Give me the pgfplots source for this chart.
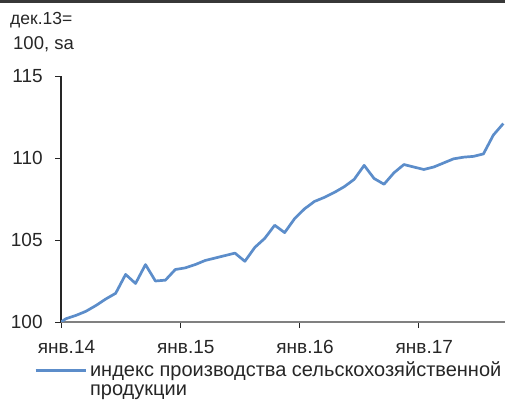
\documentclass[border=0pt]{standalone}
\usepackage{pgfplots}
\pgfplotsset{compat=1.18}
\usepackage{fontspec}
\setmainfont{Liberation Sans}
\definecolor{lineblue}{RGB}{92,141,202}
\definecolor{txt}{RGB}{38,38,38}
\definecolor{xaxisgray}{RGB}{128,128,128}
\begin{document}
\fontsize{18.5bp}{22bp}\selectfont
\begin{tikzpicture}
\path[use as bounding box] (0,0) rectangle (505bp,400bp);
\fill[black!78] (0,397bp) rectangle (505bp,400bp);
\begin{axis}[
  at={(61bp,78bp)}, anchor=south west,
  scale only axis, width=444bp, height=246bp,
  xmin=0, xmax=44.67, ymin=100, ymax=115,
  axis x line=bottom, axis y line=left,
  axis line style={-},
  x axis line style={xaxisgray, line width=2.6bp},
  y axis line style={black!85, line width=1.2bp},
  xtick={0,12,24,36},
  xticklabels={янв.14,янв.15,янв.16,янв.17},
  ytick={100,105,110,115},
  tick align=outside,
  major tick length=6bp,
  tick style={black!85, line width=0.9bp},
  tick label style={text=txt, font=\fontsize{19bp}{22bp}\selectfont},
  xticklabel style={xshift=5.5bp, yshift=-6bp},
  yticklabel style={xshift=-6bp},
  /pgf/number format/assume math mode=true,
  clip=true,
  legend style={at={(axis description cs:-0.06,-0.153)}, anchor=north west,
    draw=none, fill=none, inner sep=0pt, outer sep=0pt,
    font=\fontsize{20bp}{19bp}\selectfont, text=txt,
    column sep=1bp},
  legend cell align=left,
  legend image code/.code={\draw[#1] (0bp,0bp) -- (50bp,0bp); \path (0bp,-19bp);},
]
\addplot[lineblue, line width=2.7bp, line join=round] coordinates {
(0,100.0)
(0.5,100.2) (1.5,100.4) (2.5,100.65) (3.5,101.0) (4.5,101.4) (5.5,101.75)
(6.5,102.9) (7.5,102.35) (8.5,103.5) (9.5,102.5) (10.5,102.55) (11.5,103.2)
(12.5,103.3) (13.5,103.5) (14.5,103.75) (15.5,103.9) (16.5,104.05) (17.5,104.2)
(18.5,103.7) (19.5,104.55) (20.5,105.1) (21.5,105.9) (22.5,105.45) (23.5,106.3)
(24.5,106.9) (25.5,107.35) (26.5,107.6) (27.5,107.9) (28.5,108.25) (29.5,108.7)
(30.5,109.55) (31.5,108.75) (32.5,108.4) (33.5,109.1) (34.5,109.6) (35.5,109.45)
(36.5,109.3) (37.5,109.45) (38.5,109.7) (39.5,109.95) (40.5,110.05) (41.5,110.1)
(42.5,110.25) (43.5,111.4) (44.5,112.1)
};
\addlegendentry{\parbox[t]{440bp}{\fontsize{20bp}{19bp}\selectfont индекс производства сельскохозяйственной\newline продукции}}
\end{axis}
\node[anchor=base west, inner sep=0pt, text=txt, font=\fontsize{17.5bp}{20bp}\selectfont] at (10bp,375bp) {дек.13=};
\node[anchor=base west, inner sep=0pt, text=txt, font=\fontsize{18.5bp}{20bp}\selectfont] at (13bp,350bp) {100, sa};
\end{tikzpicture}
\end{document}
